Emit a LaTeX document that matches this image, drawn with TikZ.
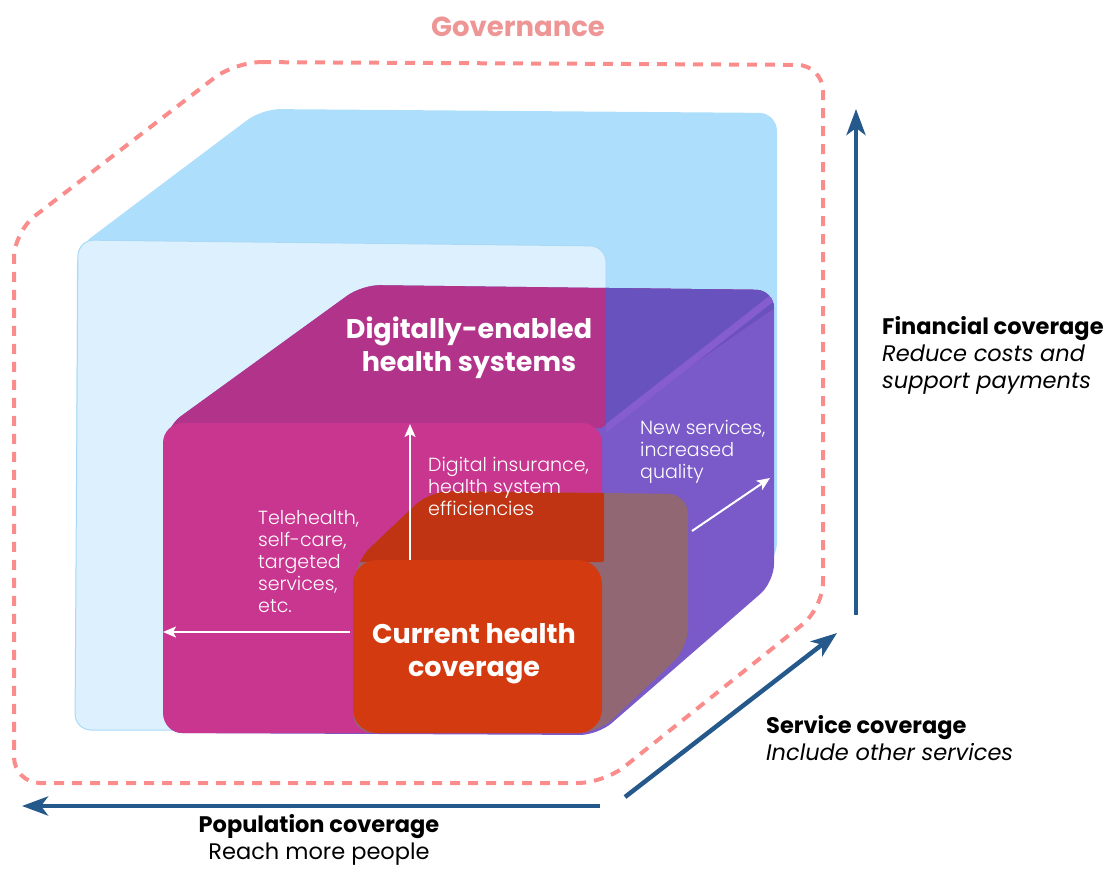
\documentclass[tikz,border=0pt]{standalone}
\usepackage{fontspec}
\setmainfont{Poppins}
\newfontfamily\lightfont{Poppins Light}
\usetikzlibrary{arrows.meta}

\definecolor{blueback}{HTML}{ADDFFD}
\definecolor{bluefront}{HTML}{DDF0FD}
\definecolor{blueedge}{HTML}{A8D9F7}
\definecolor{magfront}{HTML}{C8368F}
\definecolor{magtop}{HTML}{B2338A}
\definecolor{purpletop}{HTML}{6852BE}
\definecolor{purpleside}{HTML}{7A59C8}
\definecolor{purpleedge}{HTML}{855DCE}
\definecolor{orangefront}{HTML}{D43A0F}
\definecolor{orangetop}{HTML}{C03414}
\definecolor{orangeside}{HTML}{906772}
\definecolor{axisblue}{HTML}{25588B}
\definecolor{govred}{HTML}{FA8C8C}
\definecolor{govtext}{HTML}{EE9696}

\begin{document}
\begin{tikzpicture}[x=1pt,y=-1pt,
        axis/.style={draw=axisblue,line width=4.5pt,-{Stealth[length=26pt,width=19pt,inset=7pt]}},
        hint/.style={draw=white,line width=2pt,-{Stealth[length=13pt,width=11pt,inset=3pt]}},
        govline/.style={draw=govred,line width=4pt,dash pattern=on 10pt off 8pt,rounded corners=26pt},
        govtxt/.style={text=govtext,font=\fontsize{27.5}{32}\selectfont\bfseries},
        bigtxt/.style={text=white,font=\fontsize{27}{33}\selectfont\bfseries,align=center},
        smalltxt/.style={text=white,font=\lightfont\fontsize{19}{22}\selectfont,align=left,anchor=west,inner sep=0pt},
        axistxt/.style={font=\fontsize{22.5}{27}\selectfont,align=left,anchor=west,inner sep=0pt}]
        \useasboundingbox (0,0) rectangle (1118,869);

        \fill[blueback,rounded corners=18pt] (77,248) -- (262,109) -- (777,113) -- (777,560) -- (610,700) -- (76,730) -- cycle;
        \filldraw[fill=bluefront,draw=blueedge,line width=1pt,rounded corners=16pt] (78,240) -- (606,246) -- (606,730) -- (75,730) -- cycle;

        \begin{scope}
            \clip[rounded corners=18pt] (166,427) -- (362,285) -- (774,290) -- (774,582) -- (598,735) -- (164,733) -- cycle;
            \fill[purpleside] (150,270) rectangle (800,750);
            \fill[magtop] (166,427) -- (362,285) -- (800,290) -- (601,428) -- cycle;
            \clip (606,0) rectangle (900,869);
            \fill[purpletop] (166,427) -- (362,285) -- (800,290) -- (601,428) -- cycle;
            \draw[purpleedge,line width=7pt] (604,430) -- (780,292);
        \end{scope}
        \fill[magfront,rounded corners=20pt] (163,423) rectangle (602,733);

        \begin{scope}
            \clip[rounded corners=20pt] (355,562) -- (430,491) -- (688,494) -- (688,648) -- (598,733) -- (353,733) -- cycle;
            \fill[orangeside] (340,480) rectangle (700,740);
            \clip (340,480) rectangle (604,740);
            \fill[orangetop] (355,562) -- (430,491) -- (700,494) -- (602,562) -- cycle;
        \end{scope}
        \fill[orangefront,rounded corners=24pt] (353,560) rectangle (602,733);

        \coordinate (upFrom) at (410,560);
        \coordinate (upTo) at (410,424);
        \coordinate (leftFrom) at (350,632);
        \coordinate (leftTo) at (163,632);
        \coordinate (diagFrom) at (692,531);
        \coordinate (diagTo) at (770,478);
        \draw[hint] (upFrom) -- (upTo);
        \draw[hint] (leftFrom) -- (leftTo);
        \draw[hint] (diagFrom) -- (diagTo);

        \node[bigtxt] (digital) at (469,348) {Digitally-enabled\\health systems};
        \node[bigtxt] (current) at (474,654) {Current health\\coverage};
        \node[smalltxt] (tele) at (258,562) {Telehealth,\\self-care,\\targeted\\services,\\etc.};
        \node[smalltxt] (insur) at (428,486) {Digital insurance,\\health system\\efficiencies};
        \node[smalltxt] (newsvc) at (640,452) {New services,\\increased\\quality};

        \draw[govline] (235,62) -- (823,65) -- (823,608) -- (604,783) -- (14,783) -- (14,232) -- cycle;
        \node[govtxt] (gov) at (518,27) {Governance};

        \coordinate (finFrom) at (856,615);
        \coordinate (finTo) at (856,109);
        \coordinate (svcFrom) at (625,797);
        \coordinate (svcTo) at (837,633);
        \coordinate (popFrom) at (600,806);
        \coordinate (popTo) at (22,806);
        \draw[axis] (finFrom) -- (finTo);
        \draw[axis] (svcFrom) -- (svcTo);
        \draw[axis] (popFrom) -- (popTo);

        \node[axistxt] (fin) at (882,355) {\textbf{Financial coverage}\\\textit{Reduce costs and}\\\textit{support payments}};
        \node[axistxt] (svc) at (766,738) {\textbf{Service coverage}\\\textit{Include other services}};
        \node[axistxt,align=center,anchor=center] (pop) at (319,840) {\textbf{Population coverage}\\Reach more people};
    \end{tikzpicture}
\end{document}
